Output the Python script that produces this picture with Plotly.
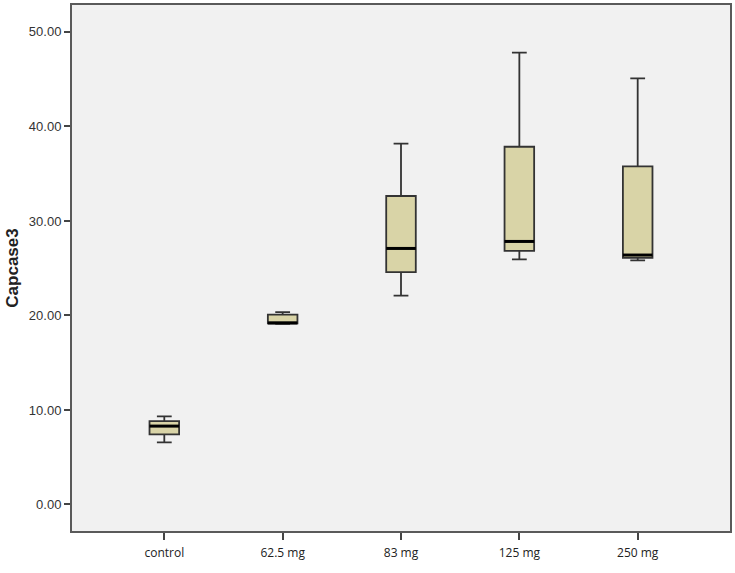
import plotly.graph_objects as go

categories = ["control", "62.5 mg", "83 mg", "125 mg", "250 mg"]
lower_whisker = [6.57, 19.12, 22.10, 25.93, 25.83]
q1_values = [7.41, 19.15, 24.59, 26.84, 26.10]
median_values = [8.29, 19.20, 27.09, 27.83, 26.39]
q3_values = [8.81, 20.09, 32.64, 37.85, 35.77]
upper_whisker = [9.31, 20.35, 38.19, 47.82, 45.08]
y_ticks = [0, 10, 20, 30, 40, 50]

positions = list(range(len(categories)))
box_w = 0.25

fig = go.Figure()
fig.add_trace(go.Box(
    x=positions,
    q1=q1_values, median=median_values, q3=q3_values,
    lowerfence=lower_whisker, upperfence=upper_whisker,
    fillcolor="#d9d4a7",
    line=dict(color="#333333", width=1.8),
    width=box_w,
    whiskerwidth=0.5,
    boxpoints=False,
    showlegend=False,
    hoverinfo="skip",
))
for p, m in zip(positions, median_values):
    fig.add_trace(go.Scatter(
        x=[p - box_w / 2, p + box_w / 2], y=[m, m],
        mode="lines", line=dict(color="#000000", width=3),
        showlegend=False, hoverinfo="skip",
    ))

fig.update_layout(
    width=735, height=573,
    margin=dict(l=72, r=5, t=3, b=42),
    paper_bgcolor="white",
    plot_bgcolor="#f1f1f1",
    showlegend=False,
    xaxis=dict(
        range=[-0.78, 4.78],
        tickmode="array", tickvals=positions, ticktext=categories,
        showline=True, mirror=True, linecolor="#5a5a5a", linewidth=2,
        ticks="outside", ticklen=7, tickcolor="#444444", tickwidth=2,
        ticklabelstandoff=3,
        showgrid=False, zeroline=False,
        tickfont=dict(family="Open Sans", size=12, color="#222222"),
    ),
    yaxis=dict(
        range=[-2.81, 52.85],
        tickmode="array", tickvals=y_ticks,
        tickformat=".2f",
        showline=True, mirror=True, linecolor="#5a5a5a", linewidth=2,
        ticks="outside", ticklen=6, tickcolor="#444444", tickwidth=2,
        showgrid=False, zeroline=False,
        tickfont=dict(family="Liberation Sans", size=13, color="#333333"),
        title=dict(text="<b>Capcase3</b>", font=dict(family="Liberation Sans", size=17, color="#222222"), standoff=6),
    ),
)

fig.write_html("out.html", config={"displayModeBar": False},
               post_script="document.body.style.margin='0';")
